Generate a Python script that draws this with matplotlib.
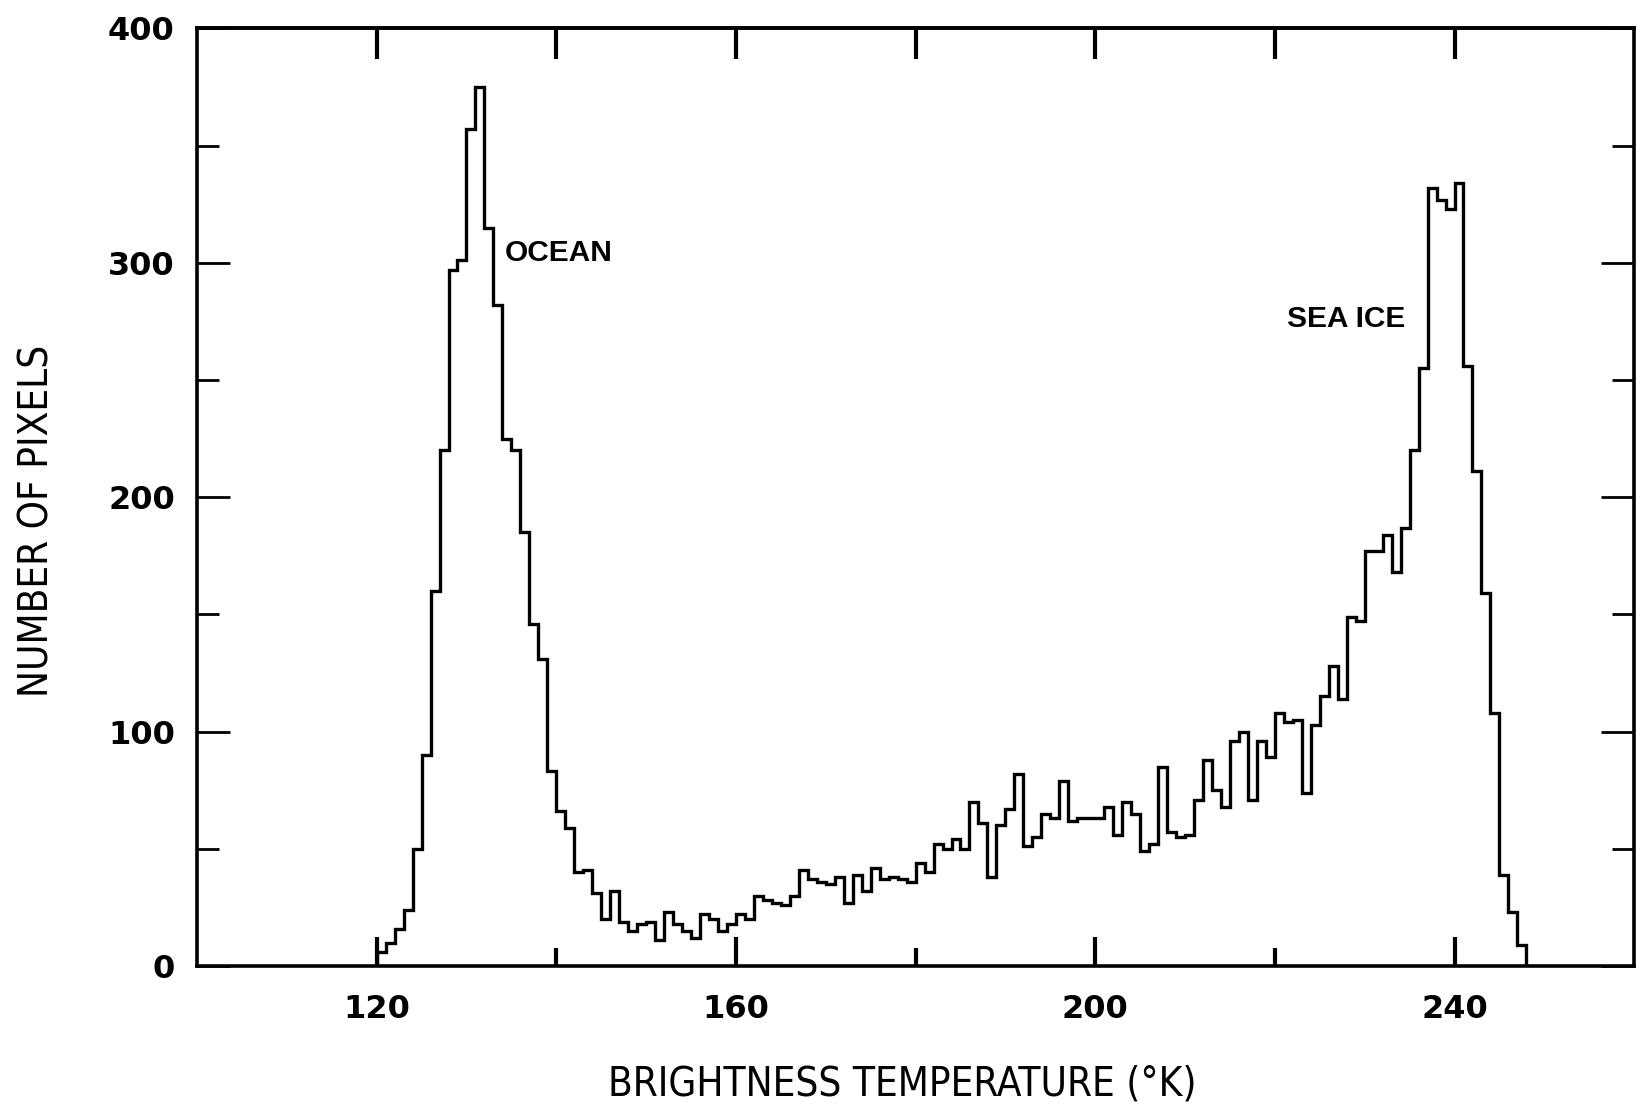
import numpy as np
import matplotlib
matplotlib.use('Agg')
import matplotlib.pyplot as plt
from matplotlib import font_manager

# histogram, one bin per kelvin starting at 120 K
FIRST_BIN = 120
BIN_WIDTH = 1

pixel_counts = [
    6, 10, 16, 24, 50, 90, 160, 220, 297, 301,            # 120-129
    357, 375, 315, 282, 225, 220, 185, 146, 131, 83,      # 130-139
    66, 59, 40, 41, 31, 20, 32, 19, 15, 18,               # 140-149
    19, 11, 23, 18, 15, 12, 22, 20, 15, 18,               # 150-159
    22, 20, 30, 28, 27, 26, 30, 41, 37, 36,               # 160-169
    35, 38, 27, 39, 32, 42, 37, 38, 37, 36,               # 170-179
    44, 40, 52, 50, 54, 50, 70, 61, 38, 60,               # 180-189
    67, 82, 51, 55, 65, 63, 79, 62, 63, 63,               # 190-199
    63, 68, 56, 70, 65, 49, 52, 85, 57, 55,               # 200-209
    56, 71, 88, 75, 68, 96, 100, 71, 96, 89,              # 210-219
    108, 104, 105, 74, 103, 115, 128, 114, 149, 147,      # 220-229
    177, 177, 184, 168, 187, 220, 255, 332, 327, 323,     # 230-239
    334, 256, 211, 159, 108, 39, 23, 9,                   # 240-247
]

x_ticks = [120, 160, 200, 240]
x_minor = [140, 180, 220]
top_ticks = [120, 140, 160, 180, 200, 220, 240]
y_ticks = [0, 100, 200, 300, 400]
y_minor = [50, 150, 250, 350]

TITLE_X = 'BRIGHTNESS TEMPERATURE (°K)'
TITLE_Y = 'NUMBER OF PIXELS'


def narrow_font():
    # the axis titles are set in a condensed face; use one if the box has it
    fonts = font_manager.fontManager.ttflist
    names = {f.name for f in fonts}
    if 'Liberation Sans Narrow' in names:
        return dict(family=['Liberation Sans Narrow', 'DejaVu Sans'], fontsize=31)
    for f in fonts:
        if f.name == 'DejaVu Sans' and f.stretch == 'condensed' and f.weight in (400, 'normal'):
            return dict(family=['DejaVu Sans'], fontstretch='condensed', fontsize=29)
    return dict(family=['Liberation Sans', 'DejaVu Sans'], fontsize=26)


def main():
    fig = plt.figure(figsize=(16.5, 11.09), dpi=100)
    ax = fig.add_axes([0.1194, 0.1289, 0.871, 0.8455])

    edges = FIRST_BIN + BIN_WIDTH * np.arange(len(pixel_counts) + 1)
    ax.stairs(pixel_counts, edges, color='black', lw=2.4)

    ax.set_xlim(100, 260)
    ax.set_ylim(0, 400)

    for sp in ax.spines.values():
        sp.set_linewidth(2.6)

    # bottom / left ticks point inward
    ax.set_xticks(x_ticks)
    ax.set_xticks(x_minor, minor=True)
    ax.set_yticks(y_ticks)
    ax.set_yticks(y_minor, minor=True)
    ax.tick_params(axis='x', which='major', direction='in', length=21, width=3, pad=20)
    ax.tick_params(axis='x', which='minor', direction='in', length=13, width=3)
    ax.tick_params(axis='y', which='major', direction='in', length=24, width=2, pad=16,
                   right=True)
    ax.tick_params(axis='y', which='minor', direction='in', length=16, width=2, right=True)
    for lab in ax.get_xticklabels() + ax.get_yticklabels():
        lab.set_fontsize(23)
        lab.set_fontweight('bold')

    # top ticks all the same length
    top = ax.secondary_xaxis('top')
    top.set_xticks(top_ticks)
    top.set_xticklabels([])
    top.tick_params(direction='in', length=22, width=3)
    top.spines['top'].set_linewidth(2.6)

    ax.text(134.3, 304, 'OCEAN', fontsize=21.5, fontweight='bold',
            family=['Liberation Sans', 'DejaVu Sans'], ha='left', va='center')
    ax.text(221.4, 276, 'SEA ICE', fontsize=21.5, fontweight='bold',
            family=['Liberation Sans', 'DejaVu Sans'], ha='left', va='center')

    title_font = narrow_font()
    fig.text(0.547, 0.0225, TITLE_X, ha='center', va='center', **title_font)
    fig.text(0.0225, 0.53, TITLE_Y, rotation=90, ha='center', va='center', **title_font)

    fig.savefig('out.png', dpi=100)


if __name__ == '__main__':
    main()
